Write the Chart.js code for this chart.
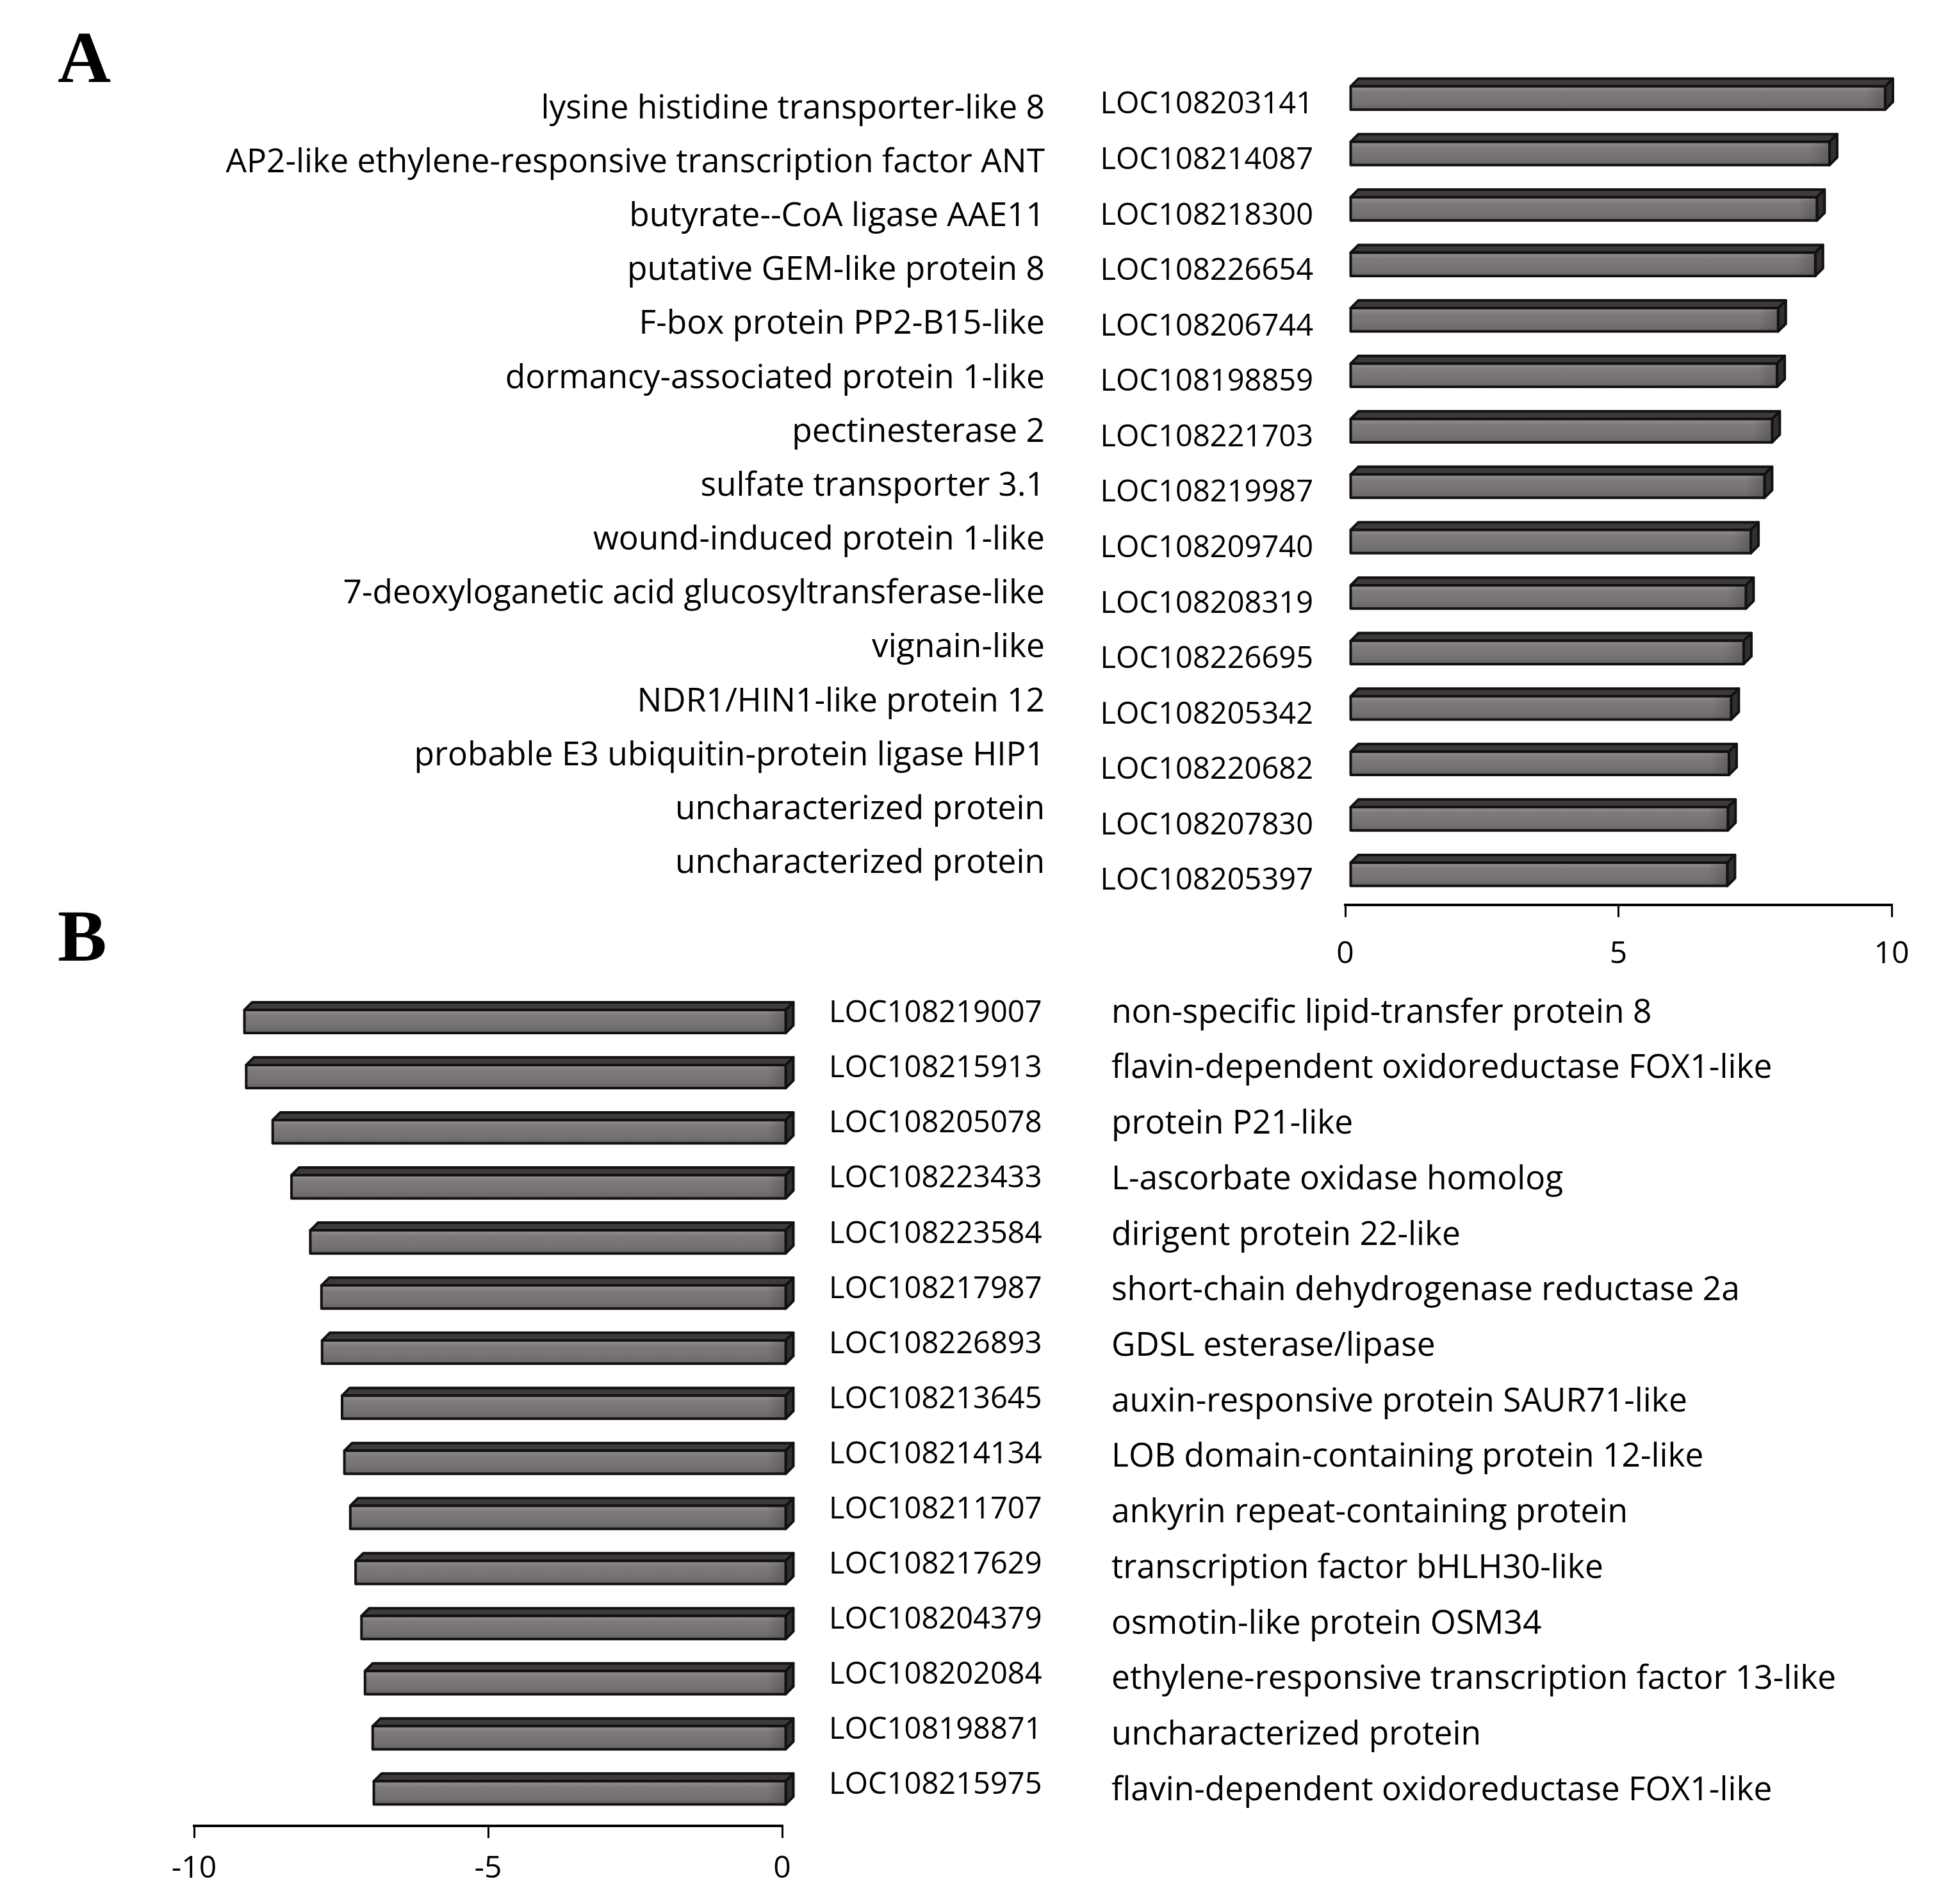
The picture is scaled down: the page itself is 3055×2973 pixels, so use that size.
<!DOCTYPE html>
<html>
<head>
<meta charset="utf-8">
<script src="https://cdn.jsdelivr.net/npm/chart.js@4.4.0/dist/chart.umd.min.js"></script>
<style>
  html, body { margin: 0; padding: 0; background: #fff; }
  #wrap { position: relative; width: 3055px; height: 2973px; overflow: hidden; background: #fff; }
  canvas { position: absolute; left: 0; }
  .panel { position: absolute; left: 90px; font: bold 115px "Liberation Serif", "Times New Roman", serif; line-height: 115px; color: #000; }
</style>
</head>
<body>
<div id="wrap">
  <canvas id="chartA" width="3055" height="1530" style="top:0px"></canvas>
  <canvas id="chartB" width="3055" height="1433" style="top:1540px"></canvas>
  <div class="panel" style="top:32px">A</div>
  <div class="panel" style="top:1404px">B</div>
</div>
<script>
// Panel A - up-regulated genes
const genesA = ['LOC108203141', 'LOC108214087', 'LOC108218300', 'LOC108226654', 'LOC108206744',
  'LOC108198859', 'LOC108221703', 'LOC108219987', 'LOC108209740', 'LOC108208319',
  'LOC108226695', 'LOC108205342', 'LOC108220682', 'LOC108207830', 'LOC108205397'];
const descA = ['lysine histidine transporter-like 8', 'AP2-like ethylene-responsive transcription factor ANT',
  'butyrate--CoA ligase AAE11', 'putative GEM-like protein 8', 'F-box protein PP2-B15-like',
  'dormancy-associated protein 1-like', 'pectinesterase 2', 'sulfate transporter 3.1',
  'wound-induced protein 1-like', '7-deoxyloganetic acid glucosyltransferase-like', 'vignain-like',
  'NDR1/HIN1-like protein 12', 'probable E3 ubiquitin-protein ligase HIP1',
  'uncharacterized protein', 'uncharacterized protein'];
const valuesA = [9.8, 8.78, 8.55, 8.52, 7.84, 7.82, 7.73, 7.59, 7.34, 7.25, 7.21, 6.98, 6.94, 6.92, 6.91];
const ticksA = [0, 5, 10];

// Panel B - down-regulated genes
const genesB = ['LOC108219007', 'LOC108215913', 'LOC108205078', 'LOC108223433', 'LOC108223584',
  'LOC108217987', 'LOC108226893', 'LOC108213645', 'LOC108214134', 'LOC108211707',
  'LOC108217629', 'LOC108204379', 'LOC108202084', 'LOC108198871', 'LOC108215975'];
const descB = ['non-specific lipid-transfer protein 8', 'flavin-dependent oxidoreductase FOX1-like',
  'protein P21-like', 'L-ascorbate oxidase homolog', 'dirigent protein 22-like',
  'short-chain dehydrogenase reductase 2a', 'GDSL esterase/lipase', 'auxin-responsive protein SAUR71-like',
  'LOB domain-containing protein 12-like', 'ankyrin repeat-containing protein',
  'transcription factor bHLH30-like', 'osmotin-like protein OSM34',
  'ethylene-responsive transcription factor 13-like', 'uncharacterized protein',
  'flavin-dependent oxidoreductase FOX1-like'];
const valuesB = [-9.22, -9.19, -8.74, -8.42, -8.1, -7.91, -7.9, -7.56, -7.52, -7.42, -7.33, -7.23, -7.17, -7.04, -7.02];
const ticksB = [-10, -5, 0];

const FONT = '"Open Sans", "Noto Sans", sans-serif';

// 3D-looking bars (like the Excel original), drawn from the bar elements
const bars3d = {
  id: 'bars3d',
  afterDatasetsDraw(chart) {
    const ctx = chart.ctx;
    const d = 12, shift = 7;
    chart.getDatasetMeta(0).data.forEach(el => {
      const l = Math.min(el.x, el.base) + shift;
      const r = Math.max(el.x, el.base) + shift;
      const t = el.y - el.height / 2;
      const b = el.y + el.height / 2;
      ctx.save();
      ctx.lineJoin = 'round';
      ctx.lineWidth = 4;
      ctx.strokeStyle = '#111';
      // top face
      ctx.beginPath();
      ctx.moveTo(l, t); ctx.lineTo(l + d, t - d); ctx.lineTo(r + d, t - d); ctx.lineTo(r, t); ctx.closePath();
      ctx.fillStyle = '#3d3a3a';
      ctx.fill(); ctx.stroke();
      // side face
      ctx.beginPath();
      ctx.moveTo(r, t); ctx.lineTo(r + d, t - d); ctx.lineTo(r + d, b - d); ctx.lineTo(r, b); ctx.closePath();
      ctx.fillStyle = '#332f2f';
      ctx.fill(); ctx.stroke();
      // front face
      const g = ctx.createLinearGradient(0, t, 0, b);
      g.addColorStop(0, '#959191');
      g.addColorStop(0.25, '#7f7a79');
      g.addColorStop(0.75, '#747070');
      g.addColorStop(1, '#686363');
      ctx.fillStyle = g;
      ctx.fillRect(l, t, r - l, b - t);
      const h = ctx.createLinearGradient(r - 30, 0, r, 0);
      h.addColorStop(0, 'rgba(60,56,56,0)');
      h.addColorStop(1, 'rgba(60,56,56,0.35)');
      ctx.fillStyle = h;
      ctx.fillRect(r - 30, t, 30, b - t);
      ctx.strokeRect(l, t, r - l, b - t);
      ctx.restore();
    });
  }
};

// category axis whose band start/extent can be nudged (in category units)
function catAxis(labels, side, o) {
  return {
    type: 'category',
    labels: labels,
    position: side,
    weight: o.weight,
    offset: true,
    grid: { display: false, drawTicks: false },
    border: { display: false },
    ticks: { font: { family: FONT, size: o.size }, color: '#000', padding: o.pad, labelOffset: o.offset, autoSkip: false },
    afterBuildTicks: s => { s._startValue = o.start; s._valueRange = o.range; },
    afterFit: s => { s.width = o.width; s.paddingTop = 0; s.paddingBottom = 0; }
  };
}

function makeChart(id, genes, desc, values, ticks, side, area) {
  return new Chart(document.getElementById(id), {
    type: 'bar',
    data: {
      labels: genes,
      datasets: [{
        data: values,
        yAxisID: 'yLoc',
        backgroundColor: 'rgba(0,0,0,0)',
        borderWidth: 0,
        barPercentage: 0.42,
        categoryPercentage: 1
      }]
    },
    options: {
      indexAxis: 'y',
      responsive: false,
      devicePixelRatio: 1,
      animation: false,
      layout: { padding: area.padding },
      plugins: { legend: { display: false }, tooltip: { enabled: false } },
      scales: {
        x: {
          type: 'linear',
          position: 'bottom',
          min: ticks[0],
          max: ticks[ticks.length - 1],
          afterBuildTicks: s => { s.ticks = ticks.map(v => ({ value: v })); },
          grid: { drawOnChartArea: false, drawTicks: true, tickLength: 19, color: '#000', lineWidth: 3 },
          border: { display: true, color: '#000', width: 4 },
          ticks: { font: { family: FONT, size: 48 }, color: '#000', padding: area.tickPad },
          afterFit: s => { s.height = area.xHeight; s.paddingLeft = 0; s.paddingRight = 0; }
        },
        yLoc: catAxis(genes, side, area.loc),
        yDesc: catAxis(desc, side, area.desc)
      }
    },
    plugins: [bars3d]
  });
}

makeChart('chartA', genesA, descA, valuesA, ticksA, 'left', {
  padding: { left: 0, right: 102, top: 110, bottom: 0 },
  xHeight: 117, tickPad: 30,
  loc: { weight: 0, width: 420, pad: 50, offset: 11, size: 47, start: -0.4965, range: 15.05 },
  desc: { weight: 1, width: 1680, pad: 49, offset: 0, size: 51.5, start: -0.713, range: 15.48 }
});

makeChart('chartB', genesB, descB, valuesB, ticksB, 'right', {
  padding: { left: 303, right: 0, top: 12, bottom: 0 },
  xHeight: 122, tickPad: 20,
  loc: { weight: 0, width: 480, pad: 73, offset: -12, size: 47, start: -0.5, range: 15.1 },
  desc: { weight: 1, width: 1354, pad: 34, offset: 0, size: 51.5, start: -0.346, range: 14.98 }
});
</script>
</body>
</html>
